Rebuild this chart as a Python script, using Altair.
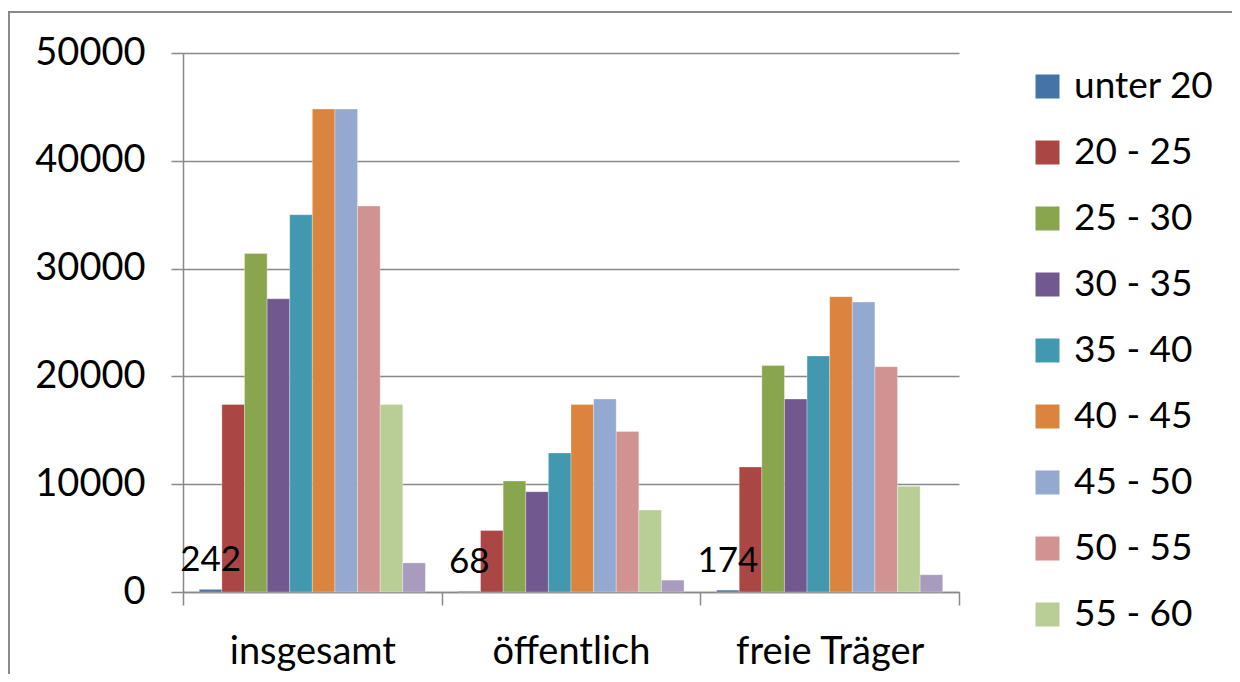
import altair as alt
import pandas as pd

categories = ["insgesamt", "öffentlich", "freie Träger"]
series = ["unter 20", "20 - 25", "25 - 30", "30 - 35", "35 - 40",
          "40 - 45", "45 - 50", "50 - 55", "55 - 60", "über 60"]
colors = ["#4572A7", "#AA4643", "#89A54E", "#71588F", "#4198AF",
          "#DB843D", "#93A9CF", "#D19392", "#B9CD96", "#A99BBD"]
insgesamt = [242, 17400, 31400, 27200, 35000, 44800, 44800, 35800, 17400, 2700]
oeffentlich = [68, 5700, 10300, 9300, 12900, 17400, 17900, 14900, 7600, 1100]
freie = [174, 11600, 21000, 17900, 21900, 27400, 26900, 20900, 9800, 1600]
y_ticks = [0, 10000, 20000, 30000, 40000, 50000]

rows = []
for cat, vals in zip(categories, [insgesamt, oeffentlich, freie]):
    for s, v in zip(series, vals):
        rows.append({"Kategorie": cat, "Alter": s, "Wert": v})
df = pd.DataFrame(rows)

FONT = "Lato"
GRAY = "#898989"

x_enc = alt.X("Kategorie:N", sort=categories,
              scale=alt.Scale(paddingInner=0, paddingOuter=0),
              axis=alt.Axis(title=None, labelAngle=0, labelFont=FONT, labelFontSize=38,
                            labelColor="black", labelBaseline="alphabetic", labelPadding=58,
                            labelLimit=500,
                            tickBand="extent", tickSize=13, tickColor=GRAY, tickWidth=1.5,
                            domainColor=GRAY, domainWidth=1.5, grid=False))
xo_enc = alt.XOffset("Alter:N", sort=series,
                     scale=alt.Scale(paddingInner=0, paddingOuter=0.72))
y_enc = alt.Y("Wert:Q", scale=alt.Scale(domain=[0, 50000], nice=False),
              axis=alt.Axis(title=None, values=y_ticks, format="d", labelFont=FONT,
                            labelFontSize=38, labelColor="black", labelPadding=26,
                            tickSize=12, tickColor=GRAY, tickWidth=1.5, gridColor=GRAY,
                            gridWidth=1.5, domainColor=GRAY, domainWidth=1.5))

bars = alt.Chart(df).mark_bar(stroke="white", strokeWidth=0.6, strokeOpacity=0.5).encode(
    x=x_enc,
    xOffset=xo_enc,
    y=y_enc,
    color=alt.Color("Alter:N", sort=series,
                    scale=alt.Scale(domain=series, range=colors),
                    legend=alt.Legend(title=None, orient="none", legendX=846, legendY=15,
                                      values=series[:9], symbolType="square",
                                      symbolSize=576, symbolStrokeWidth=0,
                                      labelFont=FONT, labelFontSize=37, labelColor="black",
                                      labelOffset=8, rowPadding=28, padding=0,
                                      labelLimit=300)),
)

labels = alt.Chart(df).transform_filter(alt.datum.Alter == "unter 20").mark_text(
    font=FONT, fontSize=35, baseline="alphabetic", align="center", dy=-18, color="black"
).encode(
    x=alt.X("Kategorie:N", sort=categories),
    xOffset=alt.XOffset("Alter:N", sort=series),
    y=alt.Y("Wert:Q"),
    text=alt.Text("Wert:Q", format="d"),
)

border = alt.Chart(df).mark_rect(filled=False, stroke=GRAY, strokeWidth=1.5).encode(
    x=alt.value(-174), x2=alt.value(1400), y=alt.value(-41), y2=alt.value(900)
)

chart = alt.layer(border, bars, labels).properties(
    width=776, height=539,
    padding={"left": 175, "top": 45, "right": 273, "bottom": 82},
    autosize=alt.AutoSizeParams(type="none"),
).configure_view(stroke=None)

chart.save("out.html", embed_options={"renderer": "svg", "actions": False})
